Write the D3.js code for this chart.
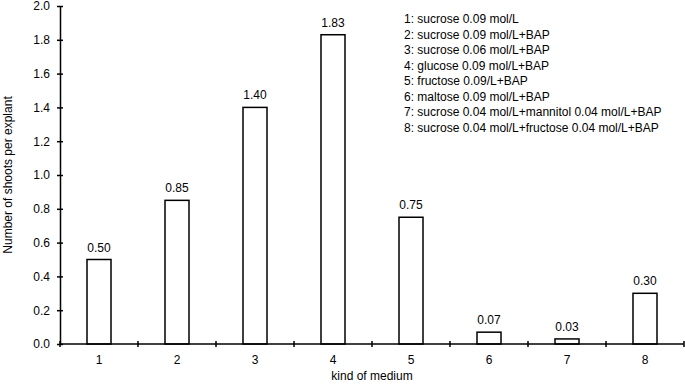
<!DOCTYPE html>
<html>
<head>
<meta charset="utf-8">
<script src="https://cdn.jsdelivr.net/npm/d3@7"></script>
<style>
  body { margin: 0; background: #fff; }
  text { font-family: "Liberation Sans", Arial, sans-serif; fill: #000; }
</style>
</head>
<body>
<div id="chart"></div>
<script>
var categories = ['1', '2', '3', '4', '5', '6', '7', '8'];
var values = [0.50, 0.85, 1.40, 1.83, 0.75, 0.07, 0.03, 0.30];
var yTicks = [0, 0.2, 0.4, 0.6, 0.8, 1.0, 1.2, 1.4, 1.6, 1.8, 2.0];
var legendLines = [
  '1: sucrose 0.09 mol/L',
  '2: sucrose 0.09 mol/L+BAP',
  '3: sucrose 0.06 mol/L+BAP',
  '4: glucose 0.09 mol/L+BAP',
  '5: fructose 0.09/L+BAP',
  '6: maltose 0.09 mol/L+BAP',
  '7: sucrose 0.04 mol/L+mannitol 0.04 mol/L+BAP',
  '8: sucrose 0.04 mol/L+fructose 0.04 mol/L+BAP'
];

var W = 685, H = 385;
var margin = { top: 6, right: 1, bottom: 41, left: 60 };

var svg = d3.select('#chart').append('svg')
  .attr('width', W)
  .attr('height', H);

var x = d3.scaleBand()
  .domain(categories)
  .range([margin.left, W - margin.right])
  .paddingInner(0)
  .paddingOuter(0);

var y = d3.scaleLinear()
  .domain([0, 2])
  .range([H - margin.bottom, margin.top]);

var barW = 24;

// bars
svg.selectAll('.bar')
  .data(values)
  .enter().append('rect')
  .attr('class', 'bar')
  .attr('x', function (d, i) { return x(categories[i]) + x.bandwidth() / 2 - barW / 2; })
  .attr('y', function (d) { return y(d); })
  .attr('width', barW)
  .attr('height', function (d) { return y(0) - y(d); })
  .attr('fill', '#fff')
  .attr('stroke', '#000')
  .attr('stroke-width', 1.5);

// value labels
svg.selectAll('.val')
  .data(values)
  .enter().append('text')
  .attr('class', 'val')
  .attr('x', function (d, i) { return x(categories[i]) + x.bandwidth() / 2; })
  .attr('y', function (d) { return y(d) - 8; })
  .attr('text-anchor', 'middle')
  .attr('font-size', 12)
  .text(function (d) { return d.toFixed(2); });

// y axis
var yAxis = d3.axisLeft(y)
  .tickValues(yTicks)
  .tickFormat(d3.format('.1f'))
  .tickSizeInner(3)
  .tickSizeOuter(0)
  .tickPadding(6);

var gy = svg.append('g')
  .attr('transform', 'translate(' + margin.left + ',0)')
  .call(yAxis);
gy.select('.domain').attr('stroke', '#000').attr('stroke-width', 1.5);
gy.selectAll('.tick line').attr('x2', 3).attr('x1', -3).attr('stroke-width', 1.5);
gy.selectAll('.tick text').attr('font-size', 12).attr('font-family', '"Liberation Sans", Arial, sans-serif').attr('x', -10);

// x axis: line with ticks at band boundaries
var xBase = y(0);
svg.append('line')
  .attr('x1', margin.left).attr('x2', W - margin.right)
  .attr('y1', xBase).attr('y2', xBase)
  .attr('stroke', '#000').attr('stroke-width', 1.5);

var boundaries = categories.map(function (c) { return x(c); }).concat([x(categories[categories.length - 1]) + x.bandwidth()]);
svg.selectAll('.xtick')
  .data(boundaries)
  .enter().append('line')
  .attr('class', 'xtick')
  .attr('x1', function (d) { return d; }).attr('x2', function (d) { return d; })
  .attr('y1', xBase - 3).attr('y2', xBase + 3)
  .attr('stroke', '#000').attr('stroke-width', 1.5);

svg.selectAll('.xlab')
  .data(categories)
  .enter().append('text')
  .attr('class', 'xlab')
  .attr('x', function (d) { return x(d) + x.bandwidth() / 2; })
  .attr('y', xBase + 20)
  .attr('text-anchor', 'middle')
  .attr('font-size', 12)
  .text(function (d) { return d; });

// axis titles
svg.append('text')
  .attr('x', margin.left + (W - margin.right - margin.left) / 2)
  .attr('y', 380)
  .attr('text-anchor', 'middle')
  .attr('font-size', 12)
  .text('kind of medium');

svg.append('text')
  .attr('transform', 'translate(12,' + ((margin.top + xBase) / 2) + ') rotate(-90)')
  .attr('text-anchor', 'middle')
  .attr('font-size', 12)
  .text('Number of shoots per explant');

// legend
svg.selectAll('.leg')
  .data(legendLines)
  .enter().append('text')
  .attr('class', 'leg')
  .attr('x', 404)
  .attr('y', function (d, i) { return 23 + i * 15.5; })
  .attr('font-size', 12)
  .text(function (d) { return d; });
</script>
</body>
</html>
